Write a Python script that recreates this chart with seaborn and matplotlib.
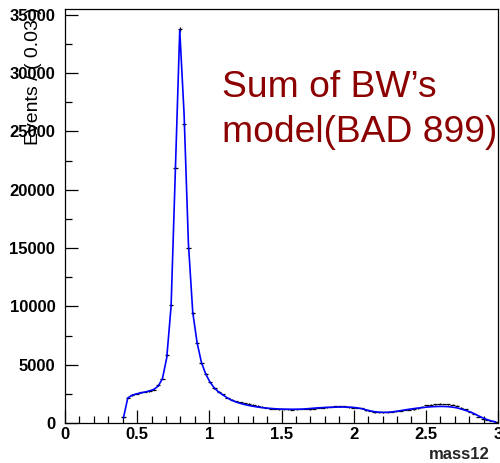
import numpy as np
import pandas as pd
import matplotlib
matplotlib.use("Agg")
import matplotlib.pyplot as plt
from matplotlib.ticker import MultipleLocator
import seaborn as sns

# Histogram binning: 0.03 wide bins, first filled bin centred at 0.405
bin_width = 0.03
first_center = 0.405

# Observed events per bin
events = [
    480, 2150, 2400, 2520, 2620, 2680, 2750, 2850, 3250, 3800,
    5800, 10100, 21900, 33750, 25600, 15000, 9400, 6850, 5150, 4220,
    3480, 3000, 2690, 2450, 2180, 1980, 1870, 1760, 1700, 1650,
    1560, 1480, 1400, 1300, 1230, 1200, 1180, 1170, 1190, 1150,
    1170, 1200, 1220, 1170, 1230, 1290, 1310, 1350, 1400, 1430,
    1440, 1420, 1330, 1300, 1290, 1270, 1100, 1020, 930, 920,
    930, 920, 940, 1000, 1050, 1120, 1150, 1180, 1270, 1400,
    1520, 1580, 1620, 1640, 1630, 1620, 1560, 1470, 1300, 1170,
    950, 760, 520, 370, 260, 170, 100,
]

# Sum-of-Breit-Wigner model evaluated at the bin centres
model = [
    450, 2150, 2380, 2500, 2580, 2660, 2750, 2880, 3150, 3800,
    5600, 10000, 21800, 33700, 26500, 15400, 9500, 6900, 5200, 4200,
    3500, 3000, 2650, 2400, 2150, 1950, 1800, 1680, 1580, 1500,
    1430, 1370, 1320, 1280, 1250, 1220, 1200, 1190, 1180, 1180,
    1180, 1190, 1210, 1240, 1270, 1300, 1320, 1340, 1350, 1360,
    1370, 1370, 1360, 1340, 1300, 1230, 1130, 1040, 970, 930,
    910, 920, 950, 1000, 1060, 1120, 1180, 1230, 1280, 1320,
    1360, 1390, 1410, 1420, 1420, 1400, 1360, 1300, 1200, 1080,
    960, 800, 610, 440, 290, 170, 90,
]

x_ticks = [0, 0.5, 1, 1.5, 2, 2.5, 3]
x_tick_labels = ["0", "0.5", "1", "1.5", "2", "2.5", "3"]
y_ticks = [0, 5000, 10000, 15000, 20000, 25000, 30000, 35000]
y_tick_labels = ["0", "5000", "10000", "15000", "20000", "25000", "30000", "35000"]

centers = np.round(first_center + bin_width * np.arange(len(events)), 3)
df = pd.DataFrame({"mass12": centers, "events": events, "model": model})

sns.set_style("ticks")
plt.rcParams["font.family"] = ["Liberation Sans", "DejaVu Sans"]

fig = plt.figure(figsize=(5.00, 4.63), dpi=100)
ax = fig.add_axes([0.13, 0.0864, 0.866, 0.8942])

# data points with Poisson errors
ax.errorbar(df["mass12"], df["events"], yerr=np.sqrt(df["events"]),
            xerr=bin_width / 2, fmt="none", ecolor="black",
            elinewidth=0.9, capsize=0, zorder=2)

# fitted model curve
sns.lineplot(data=df, x="mass12", y="model", color="#0000ff",
             linewidth=1.2, ax=ax, zorder=3)

ax.set_xlim(0, 3)
ax.set_ylim(0, 35500)
ax.set_xticks(x_ticks)
ax.set_xticklabels(x_tick_labels)
ax.set_yticks(y_ticks)
ax.set_yticklabels(y_tick_labels)
ax.xaxis.set_minor_locator(MultipleLocator(0.1))
ax.yaxis.set_minor_locator(MultipleLocator(2500))

ax.tick_params(axis="both", which="major", direction="in", length=9.5,
               width=0.9, color="black")
ax.tick_params(axis="both", which="minor", direction="in", length=5,
               width=0.9, color="black")
ax.tick_params(axis="y", which="major", pad=7)
ax.tick_params(axis="x", which="major", pad=3)
for lab in ax.get_xticklabels() + ax.get_yticklabels():
    lab.set_fontsize(12)
    lab.set_fontweight("bold")
    lab.set_color("black")

for side in ["left", "bottom", "top", "right"]:
    ax.spines[side].set_visible(True)
    ax.spines[side].set_color("black")
    ax.spines[side].set_linewidth(0.9)

ax.set_xlabel("")
ax.set_ylabel("")

# axis titles placed the way the histogram frame lays them out
fig.text(0.98, 0.003, "mass12", ha="right", va="bottom",
         fontsize=12, fontweight="bold")
fig.text(0.066, 1 - 145 / 463, "Events / ( 0.03 )", rotation=90,
         ha="center", va="bottom", fontsize=14, color="black")

# annotation
fig.text(222 / 500, 1 - 97 / 463, "Sum of BW\u2019s", color="#8b0000",
         fontsize=26.8, ha="left", va="baseline")
fig.text(222 / 500, 1 - 142 / 463, "model(BAD 899)", color="#8b0000",
         fontsize=26.8, ha="left", va="baseline")

fig.savefig("out.png", dpi=100)
